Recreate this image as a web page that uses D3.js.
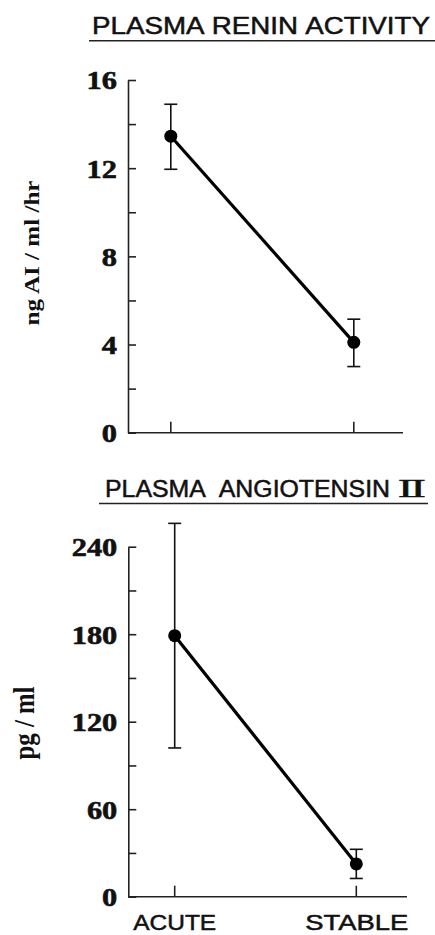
<!DOCTYPE html>
<html>
<head>
<meta charset="utf-8">
<script src="https://cdn.jsdelivr.net/npm/d3@7/dist/d3.min.js"></script>
<style>
  html, body { margin: 0; padding: 0; background: #fff; }
  svg { display: block; }
</style>
</head>
<body>
<svg id="chart" width="435" height="935"></svg>
<script>
// Groups compared in both panels
const categories = ["ACUTE", "STABLE"];

// Plasma renin activity (ng AI / ml / hr): mean with error bar limits
const reninMean  = [13.45, 4.1];
const reninUpper = [14.9, 5.15];
const reninLower = [11.95, 3.0];
const reninTicks = [0, 2, 4, 6, 8, 10, 12, 14, 16];
const reninLabels = [0, 4, 8, 12, 16];

// Plasma angiotensin II (pg / ml): mean with error bar limits
const angMean  = [179, 22.5];
const angUpper = [256, 32.5];
const angLower = [102, 12.5];
const angTicks = [0, 30, 60, 90, 120, 150, 180, 210, 240];
const angLabels = [0, 60, 120, 180, 240];

const svg = d3.select("#chart");
const INK = "#111";

function panel(opts) {
  const g = svg.append("g");
  const x = d3.scalePoint().domain(categories).range(opts.xRange);
  const y = d3.scaleLinear().domain(opts.yDomain).range(opts.yRange);

  // Title with underline
  const title = g.append("text")
    .attr("x", opts.titleX)
    .attr("y", opts.titleY)
    .attr("font-family", "'Liberation Sans', Arial, sans-serif")
    .attr("font-size", 23)
    .attr("fill", INK)
    .attr("stroke", INK)
    .attr("stroke-width", 0.5)
    .attr("textLength", opts.titleLen)
    .attr("lengthAdjust", "spacingAndGlyphs");
  opts.title.forEach((part, i) => {
    title.append("tspan")
      .attr("dx", i > 0 ? opts.titleGap : 0)
      .text(part);
  });
  if (opts.numeral) {
    // Roman numeral set in a serif face so the serifs join into bars
    g.append("text")
      .attr("x", opts.numeral.x)
      .attr("y", opts.titleY)
      .attr("font-family", "'Liberation Serif', 'Times New Roman', serif")
      .attr("font-size", 25)
      .attr("letter-spacing", -1.5)
      .attr("fill", INK)
      .attr("stroke", INK)
      .attr("stroke-width", 0.5)
      .attr("textLength", opts.numeral.len)
      .attr("lengthAdjust", "spacingAndGlyphs")
      .text(opts.numeral.text);
  }
  g.append("line")
    .attr("x1", opts.ruleX[0]).attr("x2", opts.ruleX[1])
    .attr("y1", opts.ruleY).attr("y2", opts.ruleY)
    .attr("stroke", "#222").attr("stroke-width", 1.6);

  // Y axis: ticks point inward, labels on the left
  const yAxis = d3.axisLeft(y)
    .tickValues(opts.ticks)
    .tickSizeInner(-8)
    .tickSizeOuter(0)
    .tickPadding(11)
    .tickFormat(d => opts.labels.includes(d) ? String(d) : "");
  const ya = g.append("g")
    .attr("transform", `translate(${opts.axisX},0)`)
    .call(yAxis);
  ya.select(".domain").attr("stroke", "#222").attr("stroke-width", 1.6);
  ya.selectAll(".tick line").attr("stroke", "#222").attr("stroke-width", 1.6);
  ya.selectAll(".tick text")
    .attr("font-family", "'Liberation Serif', 'Times New Roman', serif")
    .attr("font-weight", "bold")
    .attr("font-size", 26)
    .attr("fill", INK)
    .attr("stroke", INK)
    .attr("stroke-width", 0.6)
    .attr("dy", "0.34em")
    .each(function (d) {
      const s = opts.labels.includes(d) ? String(d) : "";
      if (s) d3.select(this)
        .attr("textLength", s.length * 15.2)
        .attr("lengthAdjust", "spacingAndGlyphs");
    });

  // X axis: baseline with upward ticks at each group
  const y0 = y(0);
  g.append("line")
    .attr("x1", opts.axisX).attr("x2", opts.xEnd)
    .attr("y1", y0).attr("y2", y0)
    .attr("stroke", "#222").attr("stroke-width", 1.6);
  g.selectAll(".xtick").data(categories).enter().append("line")
    .attr("x1", d => x(d)).attr("x2", d => x(d))
    .attr("y1", y0).attr("y2", y0 - 11)
    .attr("stroke", "#222").attr("stroke-width", 1.6);

  // Y axis title
  g.append("text")
    .attr("transform", `translate(${opts.yTitlePos[0]},${opts.yTitlePos[1]}) rotate(-90)`)
    .attr("text-anchor", "middle")
    .attr("font-family", "'Liberation Serif', 'Times New Roman', serif")
    .attr("font-weight", "bold")
    .attr("font-size", opts.yTitleSize)
    .attr("fill", INK)
    .attr("textLength", opts.yTitleLen)
    .attr("lengthAdjust", "spacingAndGlyphs")
    .text(opts.yTitle);

  // Error bars with caps
  const rows = categories.map((c, i) => ({
    c, m: opts.mean[i], hi: opts.upper[i], lo: opts.lower[i]
  }));
  const eb = g.selectAll(".err").data(rows).enter().append("g");
  eb.append("line")
    .attr("x1", d => x(d.c)).attr("x2", d => x(d.c))
    .attr("y1", d => y(d.hi)).attr("y2", d => y(d.lo))
    .attr("stroke", INK).attr("stroke-width", 1.6);
  ["hi", "lo"].forEach(k => {
    eb.append("line")
      .attr("x1", d => x(d.c) - 6.5).attr("x2", d => x(d.c) + 6.5)
      .attr("y1", d => y(d[k])).attr("y2", d => y(d[k]))
      .attr("stroke", INK).attr("stroke-width", 1.6);
  });

  // Mean line and markers
  g.append("path")
    .datum(rows)
    .attr("fill", "none")
    .attr("stroke", "#000")
    .attr("stroke-width", 3.2)
    .attr("d", d3.line().x(d => x(d.c)).y(d => y(d.m)));
  g.selectAll(".pt").data(rows).enter().append("circle")
    .attr("cx", d => x(d.c)).attr("cy", d => y(d.m))
    .attr("r", 6.5).attr("fill", "#000");

  return { x, y };
}

panel({
  title: ["PLASMA", "RENIN", "ACTIVITY"], titleGap: 6,
  titleX: 92, titleY: 33.5, titleLen: 338,
  ruleX: [89, 435], ruleY: 40.7,
  xRange: [170.8, 353.8], xEnd: 403,
  yDomain: [0, 16], yRange: [432.7, 80],
  ticks: reninTicks, labels: reninLabels,
  axisX: 128,
  yTitle: "ng AI / ml /hr", yTitlePos: [38.5, 253], yTitleLen: 145, yTitleSize: 20,
  mean: reninMean, upper: reninUpper, lower: reninLower
});

const bottom = panel({
  title: ["PLASMA", "ANGIOTENSIN"], titleGap: 12,
  numeral: { text: "II", x: 398, len: 25 },
  titleX: 105, titleY: 496.7, titleLen: 285,
  ruleX: [99, 428], ruleY: 503.5,
  xRange: [174.7, 356.3], xEnd: 407,
  yDomain: [0, 240], yRange: [896.7, 546.7],
  ticks: angTicks, labels: angLabels,
  axisX: 128.3,
  yTitle: "pg / ml", yTitlePos: [34, 723], yTitleLen: 73, yTitleSize: 29,
  mean: angMean, upper: angUpper, lower: angLower
});

// Group labels under the lower panel
svg.selectAll(".cat").data(categories).enter().append("text")
  .attr("x", d => bottom.x(d) + (d === "STABLE" ? 0.5 : 0))
  .attr("y", 930)
  .attr("text-anchor", "middle")
  .attr("font-family", "'Liberation Sans', Arial, sans-serif")
  .attr("font-size", 22)
  .attr("fill", INK)
  .attr("stroke", INK)
  .attr("stroke-width", 0.5)
  .attr("textLength", d => d === "ACUTE" ? 83 : 103)
  .attr("lengthAdjust", "spacingAndGlyphs")
  .text(d => d);
</script>
</body>
</html>
